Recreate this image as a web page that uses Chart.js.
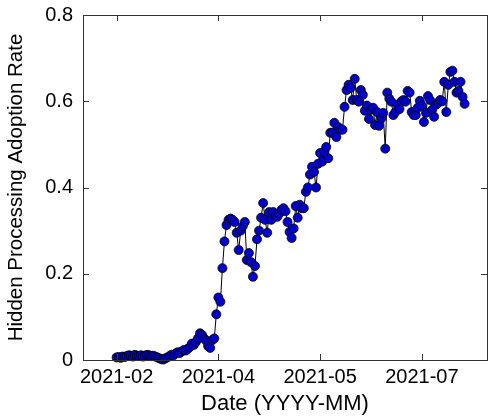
<!DOCTYPE html>
<html lang="en">
<head>
    <meta charset="UTF-8">
    <title>Hidden Processing Adoption Rate</title>
    <script src="https://cdn.jsdelivr.net/npm/chart.js"></script>
    <style>
        body { margin: 0; padding: 0; background: #fff; }
        .wrap { width: 495px; height: 417px; position: relative; }
    </style>
</head>
<body>
    <div class="wrap">
        <canvas id="adoptionChart"></canvas>
    </div>

    <script>
        // x tick positions (day index) and their labels
        const tickDays = [0, 50, 100, 150];
        const tickLabels = ['2021-02', '2021-04', '2021-05', '2021-07'];

        // adoption rate per day
        const rates = [
            0.006, 0.007, 0.005, 0.008, 0.007, 0.009, 0.011, 0.010, 0.008, 0.012, 0.010,
            0.009, 0.011, 0.008, 0.010, 0.012, 0.011, 0.009, 0.010, 0.008, 0.006, 0.004,
            0.002, 0.001, 0.004, 0.006,
            0.009, 0.012, 0.011, 0.015, 0.018, 0.016, 0.020, 0.023, 0.022,
            0.026, 0.030, 0.038, 0.035,
            0.042, 0.050, 0.062, 0.058, 0.050, 0.045, 0.032, 0.028, 0.046, 0.050,
            0.106, 0.145, 0.135, 0.213, 0.275, 0.313, 0.325, 0.328, 0.325, 0.320,
            0.295, 0.255, 0.300, 0.310, 0.320, 0.232, 0.248, 0.227, 0.193, 0.218,
            0.280, 0.300, 0.330, 0.364, 0.325, 0.295, 0.343, 0.325, 0.343, 0.335,
            0.332, 0.340, 0.348, 0.352, 0.345, 0.320, 0.297, 0.283, 0.305, 0.357,
            0.330, 0.360, 0.352, 0.352, 0.390, 0.400, 0.430, 0.448, 0.436, 0.400,
            0.455, 0.480, 0.460, 0.483, 0.494, 0.468, 0.527, 0.527, 0.550, 0.517,
            0.540, 0.534, 0.534, 0.587, 0.626, 0.638, 0.631, 0.603, 0.652, 0.603,
            0.599, 0.626, 0.615, 0.578, 0.590, 0.559, 0.580, 0.585, 0.545, 0.575,
            0.543, 0.560, 0.573, 0.490, 0.620, 0.606, 0.599, 0.568, 0.575, 0.592,
            0.582, 0.600, 0.603, 0.599, 0.624, 0.620, 0.575, 0.568, 0.568, 0.585,
            0.601, 0.590, 0.552, 0.573, 0.612, 0.603, 0.580, 0.564, 0.592, 0.596,
            0.603, 0.600, 0.645, 0.575, 0.638, 0.668, 0.671, 0.645, 0.620, 0.624,
            0.645, 0.610, 0.594
        ];
        const days = rates.map((_, i) => i);
        const yTicks = [0, 0.2, 0.4, 0.6, 0.8];

        const FONT = "'Liberation Sans', Arial, sans-serif";
        const AXIS = '#333';

        // pgfplots-style box with inward ticks on all four sides
        const boxPlugin = {
            id: 'box',
            afterDatasetsDraw(chart) {
                const { ctx, chartArea: a, scales: { x, y } } = chart;
                const len = 6;
                ctx.save();
                ctx.strokeStyle = AXIS;
                ctx.lineWidth = 1;
                ctx.beginPath();
                tickDays.forEach(d => {
                    const px = Math.round(x.getPixelForValue(d)) + 0.5;
                    ctx.moveTo(px, a.bottom); ctx.lineTo(px, a.bottom - len);
                    ctx.moveTo(px, a.top); ctx.lineTo(px, a.top + len);
                });
                yTicks.forEach(v => {
                    const py = Math.round(y.getPixelForValue(v)) + 0.5;
                    ctx.moveTo(a.left, py); ctx.lineTo(a.left + len, py);
                    ctx.moveTo(a.right, py); ctx.lineTo(a.right - len, py);
                });
                ctx.stroke();
                ctx.strokeRect(Math.round(a.left) + 0.5, Math.round(a.top) + 0.5,
                    Math.round(a.right - a.left), Math.round(a.bottom - a.top));
                ctx.restore();
            }
        };

        new Chart(document.getElementById('adoptionChart'), {
            type: 'line',
            data: {
                datasets: [{
                    data: days.map((d, i) => ({ x: d, y: rates[i] })),
                    borderColor: '#000',
                    borderWidth: 1,
                    pointRadius: 4.5,
                    pointHoverRadius: 4.5,
                    pointBackgroundColor: '#0000cc',
                    pointBorderColor: '#000',
                    pointBorderWidth: 0.8,
                    tension: 0,
                    clip: false
                }]
            },
            options: {
                responsive: true,
                maintainAspectRatio: false,
                animation: false,
                layout: { padding: { top: 15, right: 8, left: 0, bottom: 0 } },
                plugins: { legend: { display: false }, tooltip: { enabled: false } },
                scales: {
                    x: {
                        type: 'linear',
                        min: -16.5,
                        max: 182,
                        afterBuildTicks: s => { s.ticks = tickDays.map(v => ({ value: v })); },
                        afterFit: s => { s.height = 57; s.paddingLeft = 0; s.paddingRight = 0; },
                        grid: { display: false, drawTicks: false },
                        border: { display: false },
                        ticks: {
                            padding: 5,
                            color: '#000',
                            font: { family: FONT, size: 20 },
                            maxRotation: 0,
                            callback: v => tickLabels[tickDays.indexOf(v)]
                        },
                        title: {
                            display: true,
                            text: 'Date (YYYY-MM)',
                            color: '#000',
                            font: { family: FONT, size: 22 },
                            padding: { top: 0, bottom: 0 }
                        }
                    },
                    y: {
                        min: 0,
                        max: 0.8,
                        afterBuildTicks: s => { s.ticks = yTicks.map(v => ({ value: v })); },
                        afterFit: s => { s.width = 83; s.paddingTop = 0; s.paddingBottom = 0; },
                        grid: { display: false, drawTicks: false },
                        border: { display: false },
                        ticks: {
                            padding: 10,
                            color: '#000',
                            font: { family: FONT, size: 20 },
                            callback: v => v === 0 ? '0' : v.toFixed(1)
                        },
                        title: {
                            display: true,
                            text: 'Hidden Processing Adoption Rate',
                            color: '#000',
                            font: { family: FONT, size: 20.5 },
                            padding: { top: 4, bottom: 0 }
                        }
                    }
                }
            },
            plugins: [boxPlugin]
        });
    </script>
</body>
</html>
